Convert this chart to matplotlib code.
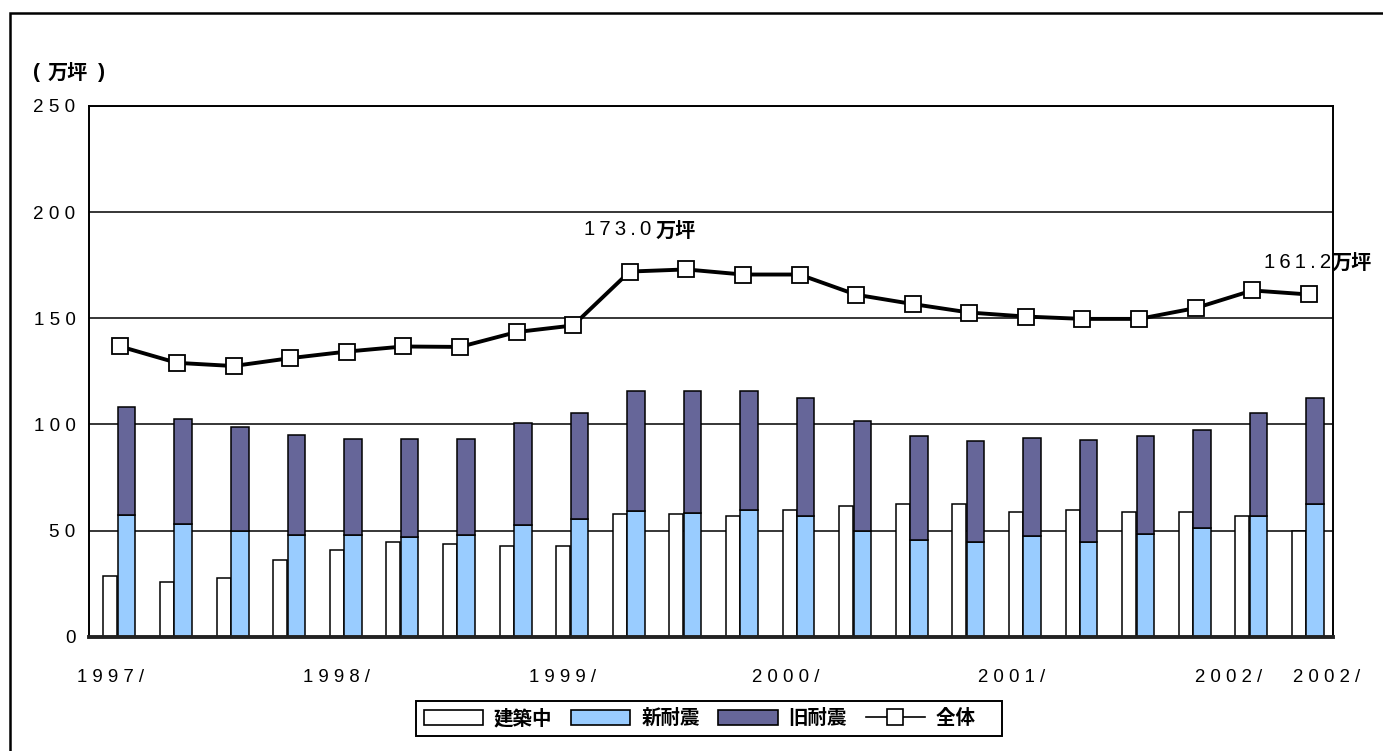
import matplotlib.pyplot as plt
import numpy as np
from matplotlib.patches import Rectangle, Patch
from matplotlib.lines import Line2D

# data (万坪), quarterly 1997/ - 2002/
kenchiku = [28.7, 25.8, 27.7, 36.1, 40.8, 44.5, 43.6, 42.7, 42.7, 57.6, 57.6,
            56.7, 59.5, 61.4, 62.5, 62.5, 58.6, 59.5, 58.6, 58.6, 56.7, 50.0]
shin = [57.3, 53.0, 50.0, 48.1, 48.1, 47.0, 48.1, 52.8, 55.6, 59.3, 58.4,
        59.5, 57.0, 50.0, 45.4, 44.4, 47.3, 44.4, 48.3, 51.0, 56.8, 62.5]
kyu = [51.0, 49.5, 49.0, 47.1, 45.0, 46.1, 45.0, 47.8, 49.7, 56.2, 57.1,
       56.0, 55.6, 51.5, 49.2, 47.6, 46.5, 48.4, 46.3, 46.6, 48.4, 50.0]
zentai = [136.7, 129.0, 127.5, 131.2, 134.3, 136.7, 136.5, 143.5, 146.6, 172.0, 173.0,
          170.6, 170.6, 161.1, 156.7, 152.7, 150.8, 149.7, 149.7, 154.8, 163.1, 161.2]
year_labels = ['1997/', '1998/', '1999/', '2000/', '2001/', '2002/', '2002/']
year_pos = [-0.12, 3.87, 7.86, 11.8, 15.79, 19.63, 21.36]

BLUE = '#99CCFF'
PURPLE = '#666699'
NUM_FONT = ['Liberation Sans', 'DejaVu Sans']
JP_FONT = ['Noto Sans CJK JP', 'DejaVu Sans']


def spaced(s, sep=' '):
    return sep.join(s)


fig = plt.figure(figsize=(13.83, 7.51), dpi=100)
ax = fig.add_axes([0.0647, 0.1522, 0.8991, 0.7067])

x = np.arange(len(kenchiku))
ax.bar(x - 0.13, kenchiku, width=0.25, color='white', edgecolor='black', linewidth=1.1)
ax.bar(x + 0.155, shin, width=0.31, color=BLUE, edgecolor='black', linewidth=1.1)
ax.bar(x + 0.155, kyu, width=0.31, bottom=shin, color=PURPLE, edgecolor='black', linewidth=1.1)
ax.plot(x + 0.045, zentai, color='black', lw=2.8, marker='s', markersize=12,
        markerfacecolor='white', markeredgecolor='black', markeredgewidth=1.3, zorder=5)

ax.set_xlim(-0.5, 21.47)
ax.set_ylim(0, 250)
ax.set_axisbelow(True)
ax.yaxis.grid(True, color='black', lw=1.1)
ax.set_yticks([0, 50, 100, 150, 200, 250])
ax.set_yticklabels([spaced(str(v)) for v in [0, 50, 100, 150, 200, 250]],
                   fontfamily=NUM_FONT, fontsize=13.6)
ax.set_xticks(year_pos)
ax.set_xticklabels([spaced(s) for s in year_labels], fontfamily=NUM_FONT, fontsize=13.4)
ax.tick_params(axis='y', length=0, pad=10)
ax.tick_params(axis='x', length=0, pad=23)
for side in ['left', 'top', 'right']:
    ax.spines[side].set_linewidth(1.4)
ax.spines['bottom'].set_linewidth(2.8)
ax.spines['bottom'].set_color('#222222')

# unit label
uy = 1 - 72 / 751
fig.text(33 / 1383, uy, '(', fontfamily=NUM_FONT, fontweight='bold', fontsize=15,
         ha='left', va='center')
fig.text(48 / 1383, uy, '万坪', fontfamily=JP_FONT, fontweight='bold', fontsize=14.5,
         ha='left', va='center')
fig.text(98 / 1383, uy, ')', fontfamily=NUM_FONT, fontweight='bold', fontsize=15,
         ha='left', va='center')

# value annotations
ax.text(9.42, 191.6, spaced('173.0', '\u2009'), fontfamily=NUM_FONT, fontsize=14.7,
        ha='right', va='center')
ax.text(9.51, 191.6, '万坪', fontfamily=JP_FONT, fontweight='bold', fontsize=14.5,
        ha='left', va='center')
ax.text(21.43, 176.5, spaced('161.2', '\u2009'), fontfamily=NUM_FONT, fontsize=14.7,
        ha='right', va='center', clip_on=False)
ax.text(21.45, 176.5, '万坪', fontfamily=JP_FONT, fontweight='bold', fontsize=14.5,
        ha='left', va='center', clip_on=False)

# legend
handles = [
    Patch(facecolor='white', edgecolor='black', linewidth=1.2),
    Patch(facecolor=BLUE, edgecolor='black', linewidth=1.2),
    Patch(facecolor=PURPLE, edgecolor='black', linewidth=1.2),
    Line2D([], [], color='black', lw=1.2, marker='s', markersize=12,
           markerfacecolor='white', markeredgecolor='black', markeredgewidth=1.2),
]
leg = fig.legend(handles, ['建築中', '新耐震', '旧耐震', '全体\u3000'], ncol=4,
                 loc='center', bbox_to_anchor=(0.5127, 0.0433),
                 prop={'family': JP_FONT, 'weight': 'bold', 'size': 14},
                 handlelength=3.05, handleheight=0.77, handletextpad=0.57,
                 columnspacing=0.95, borderpad=0.4, borderaxespad=0,
                 fancybox=False, framealpha=1)
leg.get_frame().set_edgecolor('black')
leg.get_frame().set_linewidth(1.4)

# outer frame of the chart area
fig.patches.append(Rectangle((10 / 1383, -0.05), 1.1, 1 - 12.7 / 751 + 0.05,
                             transform=fig.transFigure, fill=False,
                             edgecolor='black', linewidth=1.8))

fig.savefig('out.png', dpi=100)
